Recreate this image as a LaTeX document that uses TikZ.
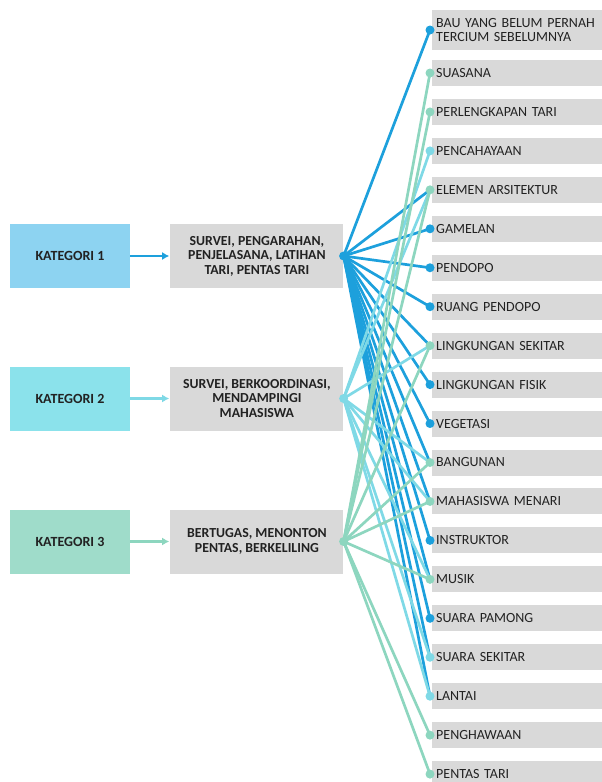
\documentclass[tikz,border=0pt]{standalone}
\usepackage{fontspec}
\setmainfont{Carlito}
\usetikzlibrary{positioning,arrows.meta}

\definecolor{kblue}{HTML}{1DA0DC}
\definecolor{kcyan}{HTML}{7FD9E6}
\definecolor{kmint}{HTML}{8DD6BF}
\definecolor{fblue}{HTML}{8DD3F1}
\definecolor{fcyan}{HTML}{8BE2EB}
\definecolor{fmint}{HTML}{9FDCCA}
\definecolor{boxgray}{HTML}{D9D9D9}
\definecolor{txt}{HTML}{222222}

\begin{document}
\begin{tikzpicture}[
		x=1pt, y=-1pt
		,kat/.style={minimum width=120pt, minimum height=64pt, inner sep=0pt, text=txt, font=\fontsize{14}{15}\selectfont\bfseries}
		,act/.style={fill=boxgray, minimum width=173pt, minimum height=64pt, inner sep=0pt, align=center, text=txt, font=\fontsize{13.8}{14.5}\selectfont\bfseries}
		,item/.style={fill=boxgray, anchor=west, minimum width=172pt, minimum height=26pt, text width=164pt, inner xsep=4pt, inner ysep=0pt, align=left, text=txt, font=\fontsize{14}{14.5}\selectfont}
		,arr/.style={line width=2.8pt, -{Latex[length=7pt, width=8pt]}, shorten >=1pt}
		,link/.style={line width=2.7pt}
	]
		\useasboundingbox (0,0) rectangle (602,782);

		% kategori
		\node[kat, fill=fblue] (k1) at (70,256) {KATEGORI 1};
		\node[kat, fill=fcyan] (k2) at (70,398.5) {KATEGORI 2};
		\node[kat, fill=fmint] (k3) at (70,541.5) {KATEGORI 3};

		% kegiatan
		\node[act, right=40pt of k1] (a1) {SURVEI, PENGARAHAN,\\PENJELASANA, LATIHAN\\TARI, PENTAS TARI};
		\node[act, right=40pt of k2] (a2) {SURVEI, BERKOORDINASI,\\MENDAMPINGI\\MAHASISWA};
		\node[act, right=40pt of k3] (a3) {BERTUGAS, MENONTON\\PENTAS, BERKELILING};

		\draw[arr, kblue] (k1) -- (a1);
		\draw[arr, kcyan] (k2) -- (a2);
		\draw[arr, kmint] (k3) -- (a3);

		% elemen
		\node[item, minimum height=40pt] (r1) at (432,30) {BAU YANG BELUM PERNAH\\TERCIUM SEBELUMNYA};
		\foreach \t [count=\i from 2] in {SUASANA, PERLENGKAPAN TARI, PENCAHAYAAN,
			ELEMEN ARSITEKTUR, GAMELAN, PENDOPO, RUANG PENDOPO, LINGKUNGAN SEKITAR,
			LINGKUNGAN FISIK, VEGETASI, BANGUNAN, MAHASISWA MENARI, INSTRUKTOR, MUSIK,
			SUARA PAMONG, SUARA SEKITAR, LANTAI, PENGHAWAAN, PENTAS TARI}
			\node[item] (r\i) at (432,{73+(\i-2)*38.95}) {\t};
		\foreach \i in {1,...,20}
			\coordinate (d\i) at ([xshift=-2pt]r\i.west);

		% hubungan
		\foreach \i in {1,5,6,7,8,9,10,11,12,13,14,15,16,17,18}
			\draw[link, kblue] (a1.east) -- (d\i);
		\foreach \i in {4,5,9,12,13,15,17,18}
			\draw[link, kcyan] (a2.east) -- (d\i);
		\foreach \i in {2,3,5,9,12,13,15,19,20}
			\draw[link, kmint] (a3.east) -- (d\i);

		\fill[kblue] (a1.east) circle (4.5pt);
		\fill[kcyan] (a2.east) circle (4.5pt);
		\fill[kmint] (a3.east) circle (4.5pt);
		\foreach \i in {1,6,7,8,10,11,14,16}
			\fill[kblue] (d\i) circle (4.5pt);
		\foreach \i in {4,17,18}
			\fill[kcyan] (d\i) circle (4.5pt);
		\foreach \i in {2,3,5,9,12,13,15,19,20}
			\fill[kmint] (d\i) circle (4.5pt);
	\end{tikzpicture}
\end{document}
